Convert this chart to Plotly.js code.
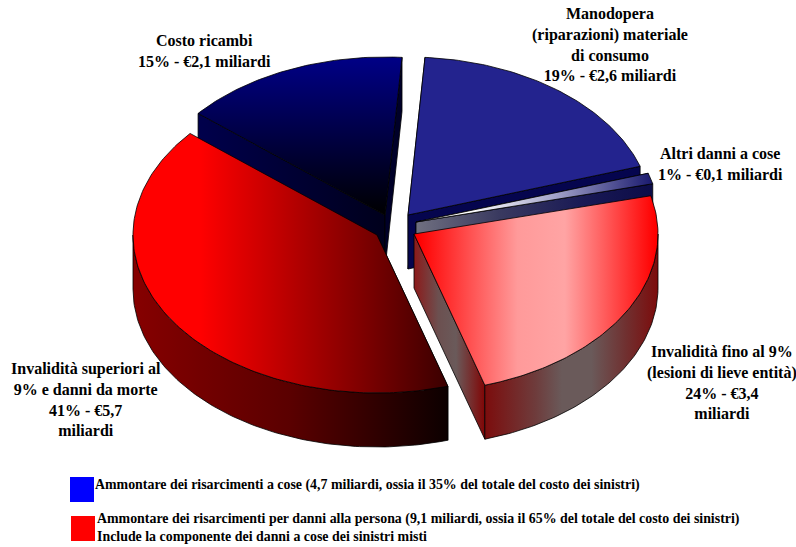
<!DOCTYPE html>
<html>
<head>
<meta charset="utf-8">
<script src="https://cdn.plot.ly/plotly-3.0.1.min.js"></script>
<style>html,body{margin:0;padding:0;background:#fff}#c{width:796px;height:547px}</style>
</head>
<body>
<div id="c"></div>
<script>
// ---- data ----
const categories = ["Manodopera","Altri danni a cose","Invalidità fino al 9%","Invalidità superiori al 9%","Costo ricambi"];
const shares = [18.9, 1.1, 24.2, 40.8, 15];
const labelTexts = [
  "Manodopera<br>(riparazioni) materiale<br>di consumo<br>19% - €2,6 miliardi",
  "Altri danni a cose<br>1% - €0,1 miliardi",
  "Invalidità fino al 9%<br>(lesioni di lieve entità)<br>24% - €3,4<br>miliardi",
  "Invalidità superiori al<br>9% e danni da morte<br>41% - €5,7<br>miliardi",
  "Costo ricambi<br>15% - €2,1 miliardi"
];
const legendTexts = [
  "Ammontare dei risarcimenti a cose (4,7 miliardi, ossia il 35% del totale del costo dei sinistri)",
  "Ammontare dei risarcimenti per danni alla persona (9,1 miliardi, ossia il 65% del totale del costo dei sinistri)",
  "Include la componente dei danni a cose dei sinistri misti"
];

// ---- drawing configuration ----
const W = 796, H = 547;
const RX = 244, RY = 158, DEPTH = 54, START = 4;
const FONT = "Liberation Serif";
const apex = [[408,215],[416,222],[414,234],[377,235],[385,215]];
const labelPos = [[610,44],[720,164],[722,382],[86,399],[204,51]];
const legendPos = [[93,485],[95,519],[95,536]];
const H2 = (stops,a,b)=>({type:'horizontal',start:a,stop:b,colorscale:stops});
const V2 = (stops,a,b)=>({type:'vertical',start:a,stop:b,colorscale:stops});
const wallGrey = H2([[0,'#7c0c0c'],[0.3,'#6e3c3c'],[0.45,'#6a5a5a'],[0.62,'#6a5a5a'],[0.82,'#703030'],[1,'#7c0c0c']],484,657);
const styles = [
  { top:{fillcolor:'#23238e'}, start:{fillcolor:'#15155a'}, end:{fillcolor:'#05054e'}, wall:{fillcolor:'#05054e'} },
  { top:{fillgradient:H2([[0,'#ffffff'],[0.45,'#a8a8cc'],[1,'#1c1c70']],470,651)},
    start:{fillcolor:'#15155a'},
    end:{fillgradient:H2([[0,'#707080'],[0.35,'#3a3a60'],[0.7,'#1a1a55'],[1,'#0c0c48']],416,651)}, wall:{fillcolor:'#0c0c48'} },
  { top:{fillgradient:H2([[0,'#ff0000'],[0.42,'#ff9a9a'],[0.62,'#ffa4a4'],[1,'#ff0000']],418,655)},
    start:{fillgradient:H2([[0,'#8c1a1a'],[0.35,'#6c5050'],[0.6,'#6a5a5a'],[1,'#800808']],414,484)},
    end:{fillcolor:'#7c0c0c'}, wall:{fillgradient:wallGrey} },
  { top:{fillgradient:H2([[0,'#ff0000'],[1,'#3a0000']],200,448)},
    start:{fillcolor:'#100000'}, end:{fillcolor:'#3a0000'},
    wall:{fillgradient:H2([[0,'#860000'],[0.5,'#5a0000'],[1,'#0c0000']],133,448)} },
  { top:{fillgradient:V2([[0,'#000000'],[1,'#000084']],215,60)},
    start:{fillcolor:'#000028'},
    end:{fillgradient:H2([[0,'#00004c'],[1,'#00001c']],198,385)}, wall:{fillcolor:'#000040'} }
];

// ---- geometry from the shares ----
const total = shares.reduce((a,b)=>a+b,0);
const rim = (c,deg)=>{const r=deg*Math.PI/180;return [c[0]+RX*Math.sin(r),c[1]-RY*Math.cos(r)];};
const line = {color:'#000000',width:0.8};
function poly(pts,style){
  const xs=pts.map(p=>p[0]).concat([pts[0][0]]), ys=pts.map(p=>p[1]).concat([pts[0][1]]);
  return Object.assign({type:'scatter',mode:'lines',x:xs,y:ys,fill:'toself',line:line,hoverinfo:'skip',showlegend:false},style);
}
function arc(c,a,b){const p=[];const n=Math.max(2,Math.ceil(Math.abs(b-a)));for(let i=0;i<=n;i++)p.push(rim(c,a+(b-a)*i/n));return p;}
const down=p=>[p[0],p[1]+DEPTH];

let cum=START; const wedges=shares.map((s,i)=>{const a=cum;cum+=s/total*360;return {a:a,b:cum,c:apex[i],st:styles[i]};});
const traces=[];
// paint from back to front: Costo, Manodopera, Altri, Invalidità fino, Invalidità superiori
[4,0,1,2,3].forEach(i=>{
  const w=wedges[i], c=w.c;
  const face=(deg,st)=>poly([c,rim(c,deg),down(rim(c,deg)),down(c)],st);
  if(i===4){ traces.push(face(w.a,w.st.end)); traces.push(face(w.b,w.st.start)); }
  else if(i===3){ traces.push(face(w.a,w.st.start)); }
  else if(i===2){ traces.push(face(w.b,w.st.start)); }
  else { traces.push(face(w.a,w.st.start)); traces.push(face(w.b,w.st.end)); }
  const lo=Math.max(w.a,90), hi=Math.min(w.b,270);
  if(hi>lo){
    const top=arc(c,lo,hi);
    traces.push(poly(top.concat(top.slice().reverse().map(down)),w.st.wall));
  }
  traces.push(poly([c].concat(arc(c,w.a,w.b)),w.st.top));
});

const annotations = labelTexts.map((t,i)=>({
  x:labelPos[i][0],y:labelPos[i][1],xref:'x',yref:'y',text:'<b>'+t+'</b>',showarrow:false,
  xanchor:'center',yanchor:'middle',align:'center',font:{family:FONT,size:16,color:'#000'}
}));
legendTexts.forEach((t,i)=>annotations.push({x:legendPos[i][0],y:legendPos[i][1],xref:'x',yref:'y',text:'<b>'+t+'</b>',showarrow:false,xanchor:'left',yanchor:'middle',align:'left',font:{family:FONT,size:13.9,color:'#000'}}));

const shapes=[
  {type:'rect',xref:'x',yref:'y',x0:70,x1:94,y0:477,y1:502,fillcolor:'#0000ff',line:{width:0}},
  {type:'rect',xref:'x',yref:'y',x0:71,x1:95,y0:516,y1:541,fillcolor:'#ff0000',line:{width:0}}
];

Plotly.newPlot('c',traces,{
  width:W,height:H,margin:{l:0,r:0,t:0,b:0},paper_bgcolor:'#fff',plot_bgcolor:'#fff',showlegend:false,
  xaxis:{range:[0,W],visible:false,fixedrange:true},
  yaxis:{range:[H,0],visible:false,fixedrange:true},
  annotations:annotations,shapes:shapes,hovermode:false
},{displayModeBar:false,staticPlot:true});
</script>
</body>
</html>
